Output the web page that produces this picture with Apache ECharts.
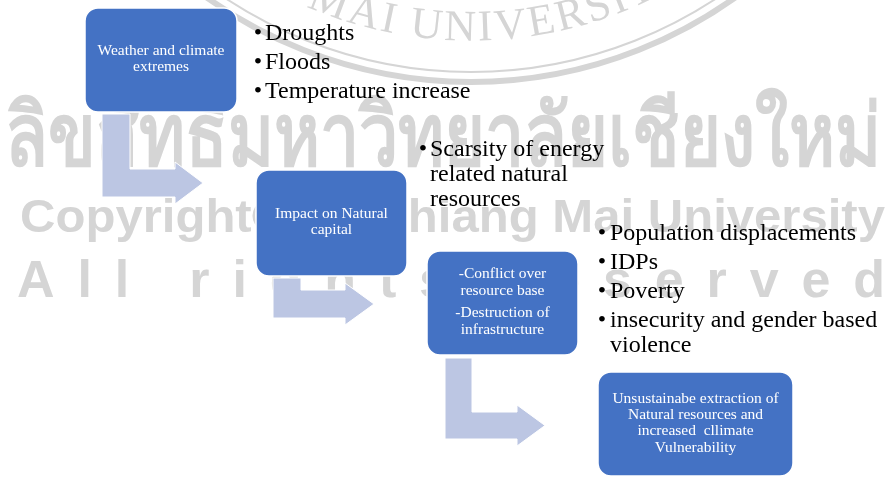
<!DOCTYPE html>
<html>
<head>
<meta charset="utf-8">
<script src="https://cdn.jsdelivr.net/npm/echarts@6/dist/echarts.min.js"></script>
<style>html,body{margin:0;padding:0;background:#fff}#c{width:889px;height:477px}</style>
</head>
<body>
<div id="c"></div>
<script>
// ---- content ----
const boxTexts = [
  [['Weather and climate', 'extremes']],
  [['Impact on Natural', 'capital']],
  [['-Conflict over', 'resource base'], ['-Destruction of', 'infrastructure']],
  [['Unsustainabe extraction of', 'Natural resources and', 'increased  cllimate', 'Vulnerability']]
];
const bulletList1 = [['Droughts'], ['Floods'], ['Temperature increase']];
const bulletList2 = [['Scarsity of energy', 'related natural', 'resources']];
const bulletList3 = [['Population displacements'], ['IDPs'], ['Poverty'], ['insecurity and gender based', 'violence']];
const watermarkThai = 'ลิขสิทธิ์มหาวิทยาลัยเชียงใหม่';
const watermarkCopy = 'Copyright© by Chiang Mai University';
const watermarkRights = 'All rights reserved';
const sealText = 'CHIANG MAI UNIVERSITY';

// ---- layout ----
const boxLayout = [
  {x: 85, y: 8, w: 152, h: 104},
  {x: 256, y: 170, w: 151, h: 106},
  {x: 427, y: 251, w: 151, h: 104},
  {x: 598, y: 372, w: 195, h: 104}
];
const arrowLayout = [
  {x0: 102, w: 28, y0: 114, y1: 197, base: 175, ext: 7, tip: 203},
  {x0: 273, w: 28, y0: 278, y1: 318, base: 345, ext: 7, tip: 374},
  {x0: 445, w: 27, y0: 358, y1: 439, base: 517, ext: 7, tip: 545}
];
const listLayout = [
  {items: bulletList1, bx: 258, tx: 265, y: 34},
  {items: bulletList2, bx: 423, tx: 430, y: 150},
  {items: bulletList3, bx: 602, tx: 610, y: 234}
];
const BLUE = '#4472C4', ARROW = '#BCC6E3', WM = '#d5d5d5';
const SERIF = '"Liberation Serif", "Times New Roman", serif';
const SANS = '"Liberation Sans", Arial, sans-serif';

const mctx = document.createElement('canvas').getContext('2d');
function tw(t, font) { mctx.font = font; return mctx.measureText(t).width; }

const g = [];
// ---- watermark ----
const seal = {cx: 471, cy: -373};
g.push({type: 'circle', silent: true, shape: {cx: seal.cx, cy: seal.cy, r: 455}, style: {fill: 'none', stroke: WM, lineWidth: 6}});
g.push({type: 'circle', silent: true, shape: {cx: seal.cx, cy: seal.cy, r: 445}, style: {fill: 'none', stroke: WM, lineWidth: 2}});
(function () {
  const font = '44px ' + SERIF, sp = 2, R = 402;
  const ws = sealText.split('').map(ch => tw(ch, font));
  const centers = []; let s = 0;
  ws.forEach((w, i) => { centers.push(s + w / 2); s += w + sp; });
  const nIdx = 12; const shift = -11 - centers[nIdx];
  sealText.split('').forEach((ch, i) => {
    if (ch === ' ') return;
    const phi = (centers[i] + shift) / R;
    g.push({type: 'text', silent: true, x: seal.cx + R * Math.sin(phi), y: seal.cy + R * Math.cos(phi), rotation: phi,
      style: {text: ch, font: font, fill: WM, align: 'center', verticalAlign: 'middle'}});
  });
})();
// Thai line
(function () {
  const w0 = tw(watermarkThai, 'bold 80px sans-serif');
  const fs = 80 * 880 / w0;
  g.push({type: 'text', silent: true, x: 5, y: 141, scaleY: 1.22, style: {text: watermarkThai, font: 'bold ' + fs.toFixed(1) + 'px sans-serif', fill: WM, align: 'left', verticalAlign: 'middle'}});
})();
// Copyright line
(function () {
  const font = 'bold 46px ' + SANS;
  const sx = 865 / tw(watermarkCopy, font);
  g.push({type: 'text', silent: true, x: 20, y: 219, scaleX: sx, style: {text: watermarkCopy, font: font, fill: WM, align: 'left', verticalAlign: 'middle'}});
})();
// All rights reserved (letter spaced)
(function () {
  const font = 'bold 52px ' + SANS;
  const chars = watermarkRights.split('');
  const ws = chars.map(c => tw(c, font));
  const total = ws.reduce((a, b) => a + b, 0);
  const sp = (868 - total) / (chars.length - 1);
  let x = 17;
  chars.forEach((c, i) => {
    if (c !== ' ') g.push({type: 'text', silent: true, x: x, y: 283, style: {text: c, font: font, fill: WM, align: 'left', verticalAlign: 'middle'}});
    x += ws[i] + sp;
  });
})();

// ---- arrows ----
arrowLayout.forEach(a => {
  const yh = a.y1 - a.w;
  const pts = [[a.x0, a.y0], [a.x0 + a.w, a.y0], [a.x0 + a.w, yh], [a.base, yh], [a.base, yh - a.ext],
    [a.tip, (yh + a.y1) / 2], [a.base, a.y1 + a.ext], [a.base, a.y1], [a.x0, a.y1]];
  g.push({type: 'polygon', silent: true, shape: {points: pts}, style: {fill: ARROW, stroke: '#fff', lineWidth: 1}});
});

// ---- boxes ----
boxLayout.forEach((b, i) => {
  g.push({type: 'rect', silent: true, shape: {x: b.x, y: b.y, width: b.w, height: b.h, r: 13}, style: {fill: BLUE, stroke: '#fff', lineWidth: 1.5}});
  const paras = boxTexts[i];
  const lh = 16.3, gap = 6.5;
  const nLines = paras.reduce((a, p) => a + p.length, 0);
  const blockH = (nLines - 1) * lh + (paras.length - 1) * gap;
  let y = b.y + b.h / 2 - blockH / 2 - 1;
  paras.forEach((p) => {
    p.forEach(line => {
      g.push({type: 'text', silent: true, x: b.x + b.w / 2, y: y, style: {text: line, font: '15.5px ' + SERIF, fill: '#fff', align: 'center', verticalAlign: 'middle'}});
      y += lh;
    });
    y += gap;
  });
});

// ---- bullet lists ----
listLayout.forEach(L => {
  let y = L.y;
  L.items.forEach(item => {
    g.push({type: 'text', silent: true, x: L.bx, y: y, style: {text: '•', font: '24px ' + SERIF, fill: '#000', align: 'center', verticalAlign: 'middle'}});
    item.forEach((line, k) => {
      g.push({type: 'text', silent: true, x: L.tx, y: y, style: {text: line, font: '24px ' + SERIF, fill: '#000', align: 'left', verticalAlign: 'middle'}});
      y += (k < item.length - 1) ? 25 : 29;
    });
  });
});

const chart = echarts.init(document.getElementById('c'), null, {renderer: 'canvas'});
chart.setOption({animation: false, graphic: {elements: g}});
</script>
</body>
</html>
